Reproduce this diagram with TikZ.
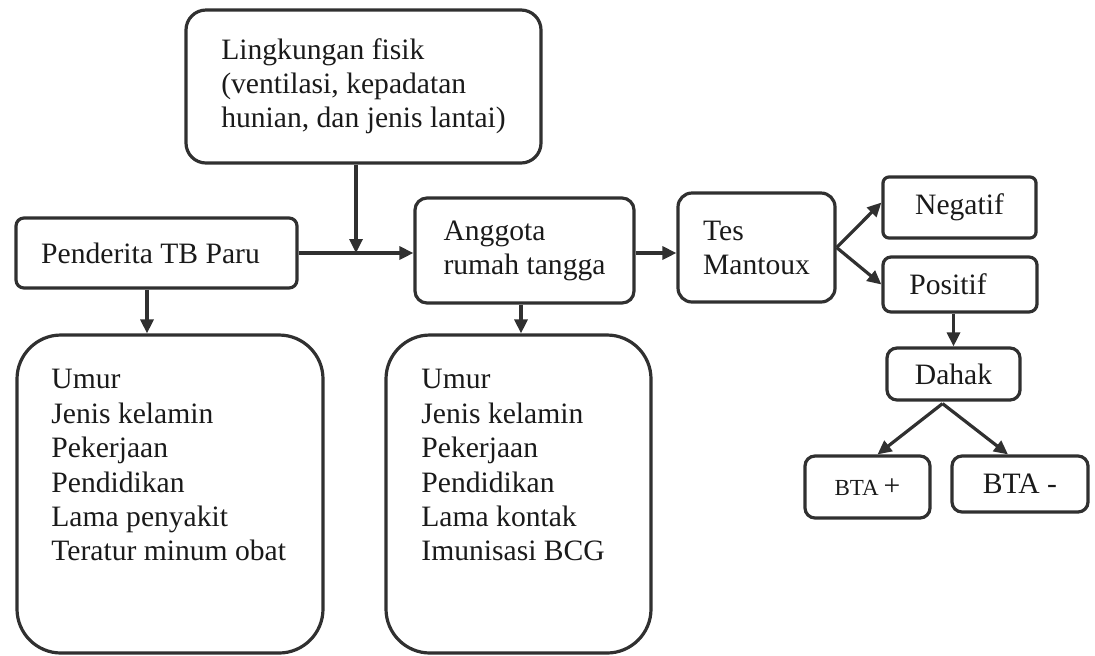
\documentclass[tikz,border=0pt]{standalone}
\usepackage{fontspec}
\setmainfont{Liberation Serif}
\usetikzlibrary{arrows.meta,calc}
\definecolor{ink}{HTML}{303030}
\definecolor{txt}{HTML}{1A1A1A}
\begin{document}
\begin{tikzpicture}[x=0.5pt,y=-0.5pt,
  box/.style={draw=ink,line width=1.6pt,text=txt,font=\fontsize{14.8}{17}\selectfont,inner sep=0pt,align=left},
  txtblock/.style={text=txt,font=\fontsize{14.8}{17.2}\selectfont,inner sep=0pt,align=left},
  arr/.style={draw=ink,line width=1.6pt,-{Triangle[length=7pt,width=6.5pt]}}
]
\useasboundingbox (0,0) rectangle (1095,655);

\node[box,rounded corners=10pt,minimum width=177.5pt,minimum height=76.5pt] (ling) at (363.5,86.5)
  {Lingkungan fisik\\(ventilasi, kepadatan\\hunian, dan jenis lantai)};
\node[box,rounded corners=4pt,minimum width=140.5pt,minimum height=35pt] (pend) at (156.5,253)
  {Penderita TB Paru\hspace{6pt}};
\node[box,rounded corners=6pt,minimum width=109.5pt,minimum height=52.5pt] (angg) at (524.5,250.5)
  {Anggota\\rumah tangga};
\node[box,rounded corners=7pt,minimum width=78.5pt,minimum height=54.5pt] (tes) at (756.5,247.5)
  {Tes\\Mantoux};
\node[box,rounded corners=3pt,minimum width=76.5pt,minimum height=30.5pt] (neg) at (959.5,207.5)
  {Negatif};
\node[box,rounded corners=4pt,minimum width=77pt,minimum height=27.5pt] (pos) at (960,284.5)
  {Positif\hspace{12pt}};
\node[box,rounded corners=5pt,minimum width=66.5pt,minimum height=26pt] (dahak) at (953.5,374)
  {Dahak};
\node[box,rounded corners=5pt,minimum width=62.5pt,minimum height=31pt] (btap) at (867.5,487)
  {{\fontsize{11.5}{13}\selectfont BTA}\,+};
\node[box,rounded corners=5pt,minimum width=68pt,minimum height=28pt] (btam) at (1020,484)
  {BTA -};

\node[box,rounded corners=22pt,minimum width=153pt,minimum height=159pt] (lbox) at (170,494) {};
\node[box,rounded corners=22pt,minimum width=132.5pt,minimum height=159pt] (mbox) at (518.5,494) {};

\node[txtblock,anchor=north west] (ltext) at (51,369)
  {Umur\\Jenis kelamin\\Pekerjaan\\Pendidikan\\Lama penyakit\\Teratur minum obat};
\node[txtblock,anchor=north west] (mtext) at (421,369)
  {Umur\\Jenis kelamin\\Pekerjaan\\Pendidikan\\Lama kontak\\Imunisasi BCG};

\coordinate (j) at (356,253);
\draw[arr] (ling.south -| j) -- (j);
\draw[arr] (pend.east) -- (angg.west |- pend.east);
\draw[arr] (angg.east |- pend.east) -- (tes.west |- pend.east);
\draw[arr] (tes.east) -- ($(neg.west)+(0,-5)$);
\draw[arr] (tes.east) -- (pos.west);
\draw[arr] (dahak.north |- pos.south) -- (dahak.north);
\coordinate (d0) at ($(dahak.south)+(-11,2)$);
\draw[arr] (d0) -- ($(btap.north)+(10,0)$);
\draw[arr] (d0) -- ($(btam.north)+(-12,0)$);
\coordinate (p0) at ($(pend.south)+(-9.5,0)$);
\draw[arr] (p0) -- (lbox.north -| p0);
\coordinate (a0) at ($(angg.south)+(-3.5,0)$);
\draw[arr] (a0) -- (mbox.north -| a0);
\end{tikzpicture}
\end{document}
